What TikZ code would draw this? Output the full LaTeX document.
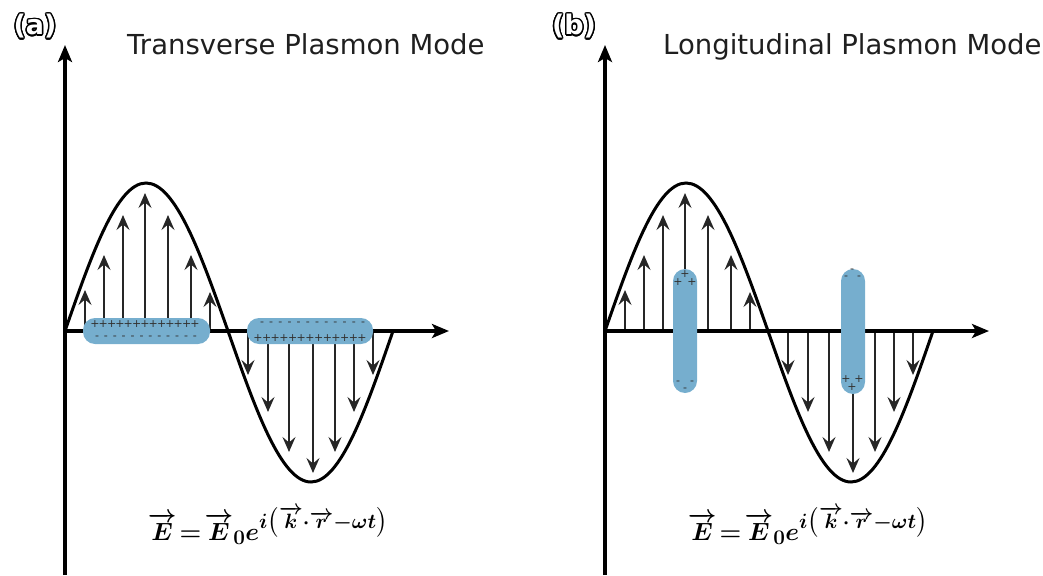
\documentclass[tikz,border=0pt]{standalone}
\usepackage{amsmath}
\usepackage[no-math]{fontspec}
\usepackage{contour}
\newfontfamily\dejavu{DejaVu Sans}
\usetikzlibrary{arrows.meta}
\definecolor{blobblue}{RGB}{118,174,206}
\contourlength{1.4pt}
\tikzset{
  axisline/.style={line width=4pt, -{Stealth[length=17pt,width=14pt,inset=4pt]}},
  waveline/.style={line width=3pt},
  fieldvec/.style={line width=1.6pt, draw=black!85, -{Stealth[length=15pt,width=13pt,inset=5.5pt]}},
  blob/.style={fill=blobblue, rounded corners=12pt, draw=none},
  chg/.style={font=\dejavu\fontsize{11}{11}\selectfont, text=black!80, inner sep=0pt},
  ttl/.style={font=\dejavu\fontsize{27.5}{28}\selectfont, text=black!88, anchor=base west, inner sep=0pt},
  plabel/.style={font=\dejavu\bfseries\fontsize{27}{27}\selectfont, inner sep=0pt},
  eqn/.style={anchor=base, inner sep=0pt},
}
\newcommand\wavepanel[1]{%
  \foreach \xa/\ya in {85/290,104/255,123/215,145/193,168/215,191/255,210/292}
    \draw[fieldvec] (\xa+#1,331) -- (\xa+#1,\ya);
  \foreach \xa/\ya in {248/375,268/412,289/452,313/473,335/452,354/412,373/375}
    \draw[fieldvec] (\xa+#1,331) -- (\xa+#1,\ya);
  \draw[axisline] (65+#1,575) -- (65+#1,45);
  \draw[axisline] (63+#1,331) -- (449+#1,331);
  \draw[waveline] (65+#1,331) sin (146+#1,183) cos (228+#1,331) sin (311+#1,482) cos (393+#1,331);
}
\newsavebox\eqbox
\begin{document}
\sbox\eqbox{\fontsize{24.88}{25}\selectfont\boldmath$\overrightarrow{E}\!=\!\overrightarrow{E}_{0}e^{i\bigl(\overrightarrow{k}\cdot\overrightarrow{r}-\omega t\bigr)}$}%
\begin{tikzpicture}[x=1pt,y=-1pt]
\useasboundingbox (0,0) rectangle (1043,575);

\wavepanel{0}
\wavepanel{540}

\node[eqn] (eqa) at (268,540) {\usebox\eqbox};
\node[eqn] (eqb) at (808,540) {\usebox\eqbox};

\node[plabel] (laba) at (35,27) {\contour{black}{\textcolor{white}{(a)}}};
\node[plabel] (labb) at (574,27) {\contour{black}{\textcolor{white}{(b)}}};
\node[ttl] (titlea) at (127,55) {Transverse Plasmon Mode};
\node[ttl] (titleb) at (663,55) {Longitudinal Plasmon Mode};

% panel (a) charge layers
\fill[blob] (83,318) rectangle (210,344);
\fill[blob] (247,318) rectangle (373,344);
\foreach \i in {0,...,12} \node[chg] at ({95+\i*8.33},324) {+};
\foreach \i in {0,...,11} \node[chg] at ({97+\i*8.9},338) {-};
\foreach \i in {0,...,11} \node[chg] at ({262+\i*9.18},324) {-};
\foreach \i in {0,...,12} \node[chg] at ({258+\i*8.67},338) {+};

% panel (b) charge columns
\fill[blob] (673,269) rectangle (697,393);
\fill[blob] (841,269) rectangle (865,394);
\node[chg] at (685,274) {+};
\node[chg] at (678,282) {+};
\node[chg] at (692,282) {+};
\node[chg] at (678,383) {-};
\node[chg] at (692,383) {-};
\node[chg] at (685,390) {-};
\node[chg] at (852,271) {-};
\node[chg] at (846,278) {-};
\node[chg] at (859,278) {-};
\node[chg] at (846,379) {+};
\node[chg] at (859,379) {+};
\node[chg] at (852,387) {+};
\end{tikzpicture}
\end{document}
